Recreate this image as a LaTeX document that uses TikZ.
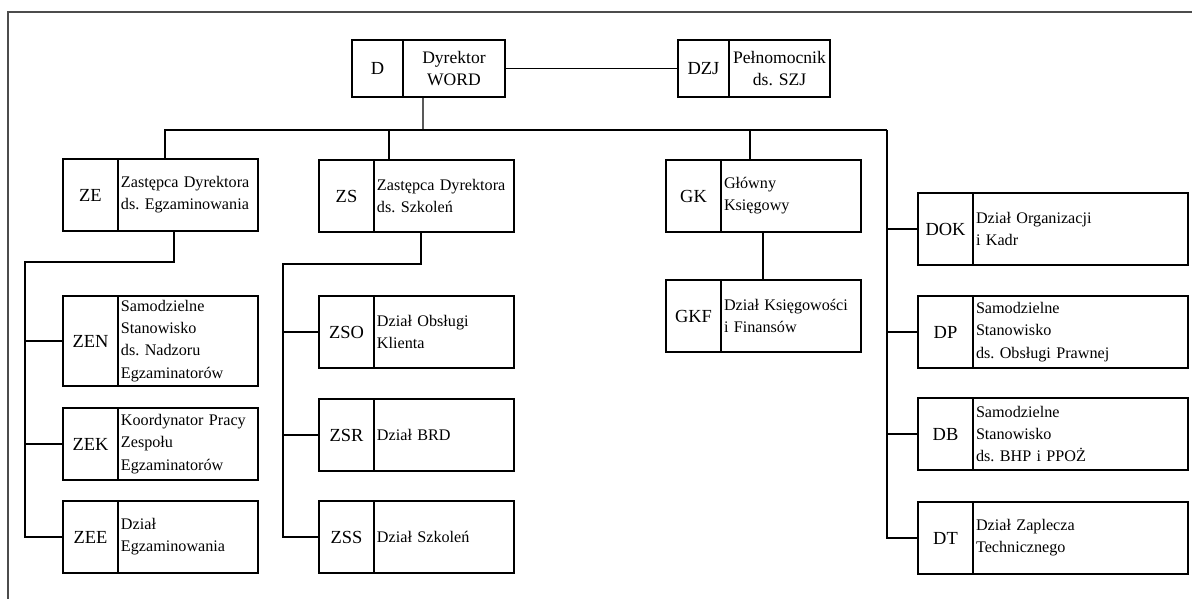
\documentclass[tikz,border=0pt]{standalone}
\usepackage{fontspec}
\setmainfont{Liberation Serif}
\usetikzlibrary{positioning}
\frenchspacing

\begin{document}
\begin{tikzpicture}[x=0.02cm,y=-0.02cm,
    kod/.style={draw,line width=1.5pt,outer sep=0pt,inner sep=0pt,
                minimum width=1.1cm,minimum height=1.44cm,
                font=\fontsize{10.5}{12}\selectfont},
    opis/.style={draw,line width=1.5pt,outer sep=0pt,inner xsep=0.06cm,
                 inner ysep=0pt,text width=2.68cm,minimum height=1.44cm,
                 align=left,font=\fontsize{9.2}{12.6}\selectfont},
    szeroki/.style={text width=4.18cm},
    wysoki/.style={minimum height=1.8cm},
    niski/.style={minimum height=1.14cm,minimum width=1.02cm},
    linia/.style={line width=0.8pt}]

  \useasboundingbox (0,0) rectangle (1192,599);
  \draw[line width=1.1pt,black!70] (1192,12) -- (8,12) -- (8,599);

  % dyrekcja
  \node[kod,niski,anchor=north west] (D) at (352,40) {D};
  \node[opis,niski,text width=1.92cm,align=center,font=\fontsize{10}{12.8}\selectfont,
        right=0pt of D] (Dt) {Dyrektor\\WORD};
  \node[kod,niski,anchor=north west] (DZJ) at (678,40) {DZJ};
  \node[opis,niski,text width=1.9cm,align=center,font=\fontsize{10}{12.8}\selectfont,
        right=0pt of DZJ] (DZJt) {Pełnomocnik\\ds. SZJ};

  % zastepcy i glowny ksiegowy
  \node[kod,anchor=north west] (ZE) at (63,159) {ZE};
  \node[opis,right=0pt of ZE] (ZEt) {Zastępca Dyrektora\\ds. Egzaminowania};
  \node[kod,anchor=north west] (ZS) at (319,160) {ZS};
  \node[opis,right=0pt of ZS] (ZSt) {Zastępca Dyrektora\\ds. Szkoleń};
  \node[kod,anchor=north west] (GK) at (666,160) {GK};
  \node[opis,right=0pt of GK] (GKt) {Główny\\Księgowy};
  \node[kod,anchor=north west] (GKF) at (666,280) {GKF};
  \node[opis,right=0pt of GKF] (GKFt) {Dział Księgowości\\i Finansów};

  % pion egzaminowania
  \node[kod,wysoki,anchor=north west] (ZEN) at (63,296) {ZEN};
  \node[opis,wysoki,right=0pt of ZEN] (ZENt) {Samodzielne\\Stanowisko\\ds. Nadzoru\\Egzaminatorów};
  \node[kod,anchor=north west] (ZEK) at (63,408) {ZEK};
  \node[opis,right=0pt of ZEK] (ZEKt) {Koordynator Pracy\\Zespołu\\Egzaminatorów};
  \node[kod,anchor=north west] (ZEE) at (63,501) {ZEE};
  \node[opis,right=0pt of ZEE] (ZEEt) {Dział\\Egzaminowania};

  % pion szkolen
  \node[kod,anchor=north west] (ZSO) at (319,296) {ZSO};
  \node[opis,right=0pt of ZSO] (ZSOt) {Dział Obsługi\\Klienta};
  \node[kod,anchor=north west] (ZSR) at (319,399) {ZSR};
  \node[opis,right=0pt of ZSR] (ZSRt) {Dział BRD};
  \node[kod,anchor=north west] (ZSS) at (319,501) {ZSS};
  \node[opis,right=0pt of ZSS] (ZSSt) {Dział Szkoleń};

  % komorki podlegle dyrektorowi
  \node[kod,anchor=north west] (DOK) at (918,193) {DOK};
  \node[opis,szeroki,right=0pt of DOK] (DOKt) {Dział Organizacji\\i Kadr};
  \node[kod,anchor=north west] (DP) at (918,296) {DP};
  \node[opis,szeroki,right=0pt of DP] (DPt) {Samodzielne\\Stanowisko\\ds. Obsługi Prawnej};
  \node[kod,anchor=north west] (DB) at (918,398) {DB};
  \node[opis,szeroki,right=0pt of DB] (DBt) {Samodzielne\\Stanowisko\\ds. BHP i PPOŻ};
  \node[kod,anchor=north west] (DT) at (918,502) {DT};
  \node[opis,szeroki,right=0pt of DT] (DTt) {Dział Zaplecza\\Technicznego};

  % polaczenia
  \coordinate (gora) at (423,130);
  \coordinate (szynaL) at (165,130);
  \coordinate (szynaR) at (887,130);
  \coordinate (nadZS) at (389,130);
  \coordinate (nadGK) at (750,130);
  \coordinate (zeL) at (25,262);
  \coordinate (zsL) at (283,264);

  \draw[linia] (Dt.east) -- (DZJ.west);
  \draw[linia] ([xshift=0.4cm]Dt.south west) -- (gora);
  \draw[linia] (szynaL |- ZEt.north) -- (szynaL) -- (szynaR);
  \draw[linia] (nadZS) -- (nadZS |- ZSt.north);
  \draw[linia] (nadGK) -- (nadGK |- GKt.north);
  \draw[linia] ([xshift=0.84cm]GKt.south west) -- ([xshift=0.84cm]GKFt.north west);

  \draw[linia] (szynaR) |- (DT.west);
  \draw[linia] (szynaR |- DOK.west) -- (DOK.west);
  \draw[linia] (szynaR |- DP.west) -- (DP.west);
  \draw[linia] (szynaR |- DB.west) -- (DB.west);

  \draw[linia] ([xshift=1.12cm]ZEt.south west) |- (zeL) |- (ZEE.west);
  \draw[linia] (zeL |- ZEN.west) -- (ZEN.west);
  \draw[linia] (zeL |- ZEK.west) -- (ZEK.west);

  \draw[linia] ([xshift=0.94cm]ZSt.south west) |- (zsL) |- (ZSS.west);
  \draw[linia] (zsL |- ZSO.west) -- (ZSO.west);
  \draw[linia] (zsL |- ZSR.west) -- (ZSR.west);

\end{tikzpicture}
\end{document}
